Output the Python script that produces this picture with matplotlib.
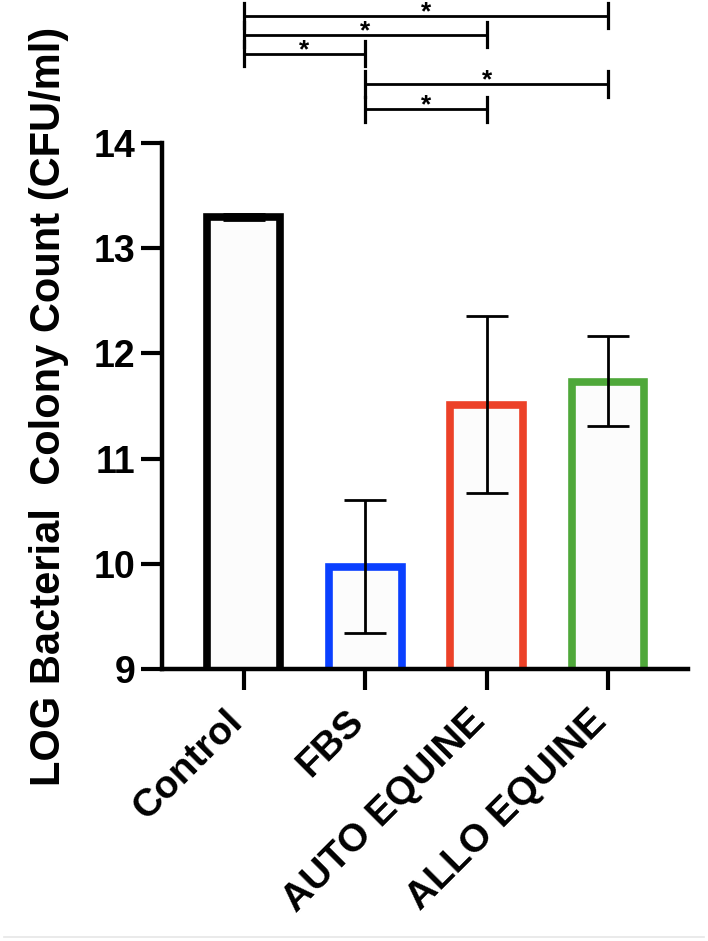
import numpy as np
import matplotlib.pyplot as plt
from matplotlib.lines import Line2D

plt.rcParams['font.family'] = ['Liberation Sans', 'DejaVu Sans']
plt.rcParams['font.weight'] = 'bold'

groups = ['Control', 'FBS', 'AUTO EQUINE', 'ALLO EQUINE']
means = [13.30, 9.97, 11.51, 11.73]
err_low = [0.03, 0.63, 0.84, 0.42]
err_high = [0.03, 0.64, 0.85, 0.44]
edge_colors = ['#000000', '#0a40ff', '#ec4128', '#4fa83a']

# significance pairs (group index a, group index b, bracket height)
sig_pairs = [(0, 3, 15.21), (0, 2, 15.03), (0, 1, 14.85), (1, 3, 14.56), (1, 2, 14.32)]

fig = plt.figure(figsize=(7.08, 9.41), dpi=100)
ax = fig.add_axes([0.2288, 0.289, 0.743, 0.559])

x = np.arange(len(groups))
ax.bar(x, means, width=0.6, color='#fcfcfc', edgecolor=edge_colors, linewidth=5.5, zorder=2)
ax.errorbar(x, means, yerr=[err_low, err_high], fmt='none', ecolor='black',
            elinewidth=2, capsize=15, capthick=2, zorder=3)

ax.set_ylim(9, 14)
ax.set_xlim(-0.675, 3.66)
ax.set_yticks([9, 10, 11, 12, 13, 14])
ax.set_xticks(x)
ax.set_xticklabels(groups, rotation=45, ha='right', va='baseline', rotation_mode='anchor')

for s in ['top', 'right']:
    ax.spines[s].set_visible(False)
for s in ['left', 'bottom']:
    ax.spines[s].set_linewidth(3.2)
ax.tick_params(axis='both', length=15, width=3)
ax.tick_params(axis='y', labelsize=27, pad=4)
ax.tick_params(axis='x', labelsize=28, pad=24)
for lab in ax.get_xticklabels() + ax.get_yticklabels():
    lab.set_fontweight('bold')

ax.set_ylabel('LOG Bacterial  Colony Count (CFU/ml)', fontsize=30, fontweight='bold', labelpad=18)

# significance brackets
leg = 0.12
for a, b, h in sig_pairs:
    ax.plot([a, b], [h, h], color='black', lw=2, clip_on=False)
    ax.plot([a, a], [h - leg, h + leg], color='black', lw=2.3, clip_on=False)
    ax.plot([b, b], [h - leg, h + leg], color='black', lw=2.3, clip_on=False)
    ax.text((a + b) / 2, h + 0.035, '*', ha='center', va='center', fontsize=19, fontweight='bold')

# faint border line at the bottom of the screenshot
fig.add_artist(Line2D([0.005, 0.995], [0.0045, 0.0045], color='#e6e6e6', lw=1.2))

plt.savefig('out.png', dpi=100)
plt.close()
